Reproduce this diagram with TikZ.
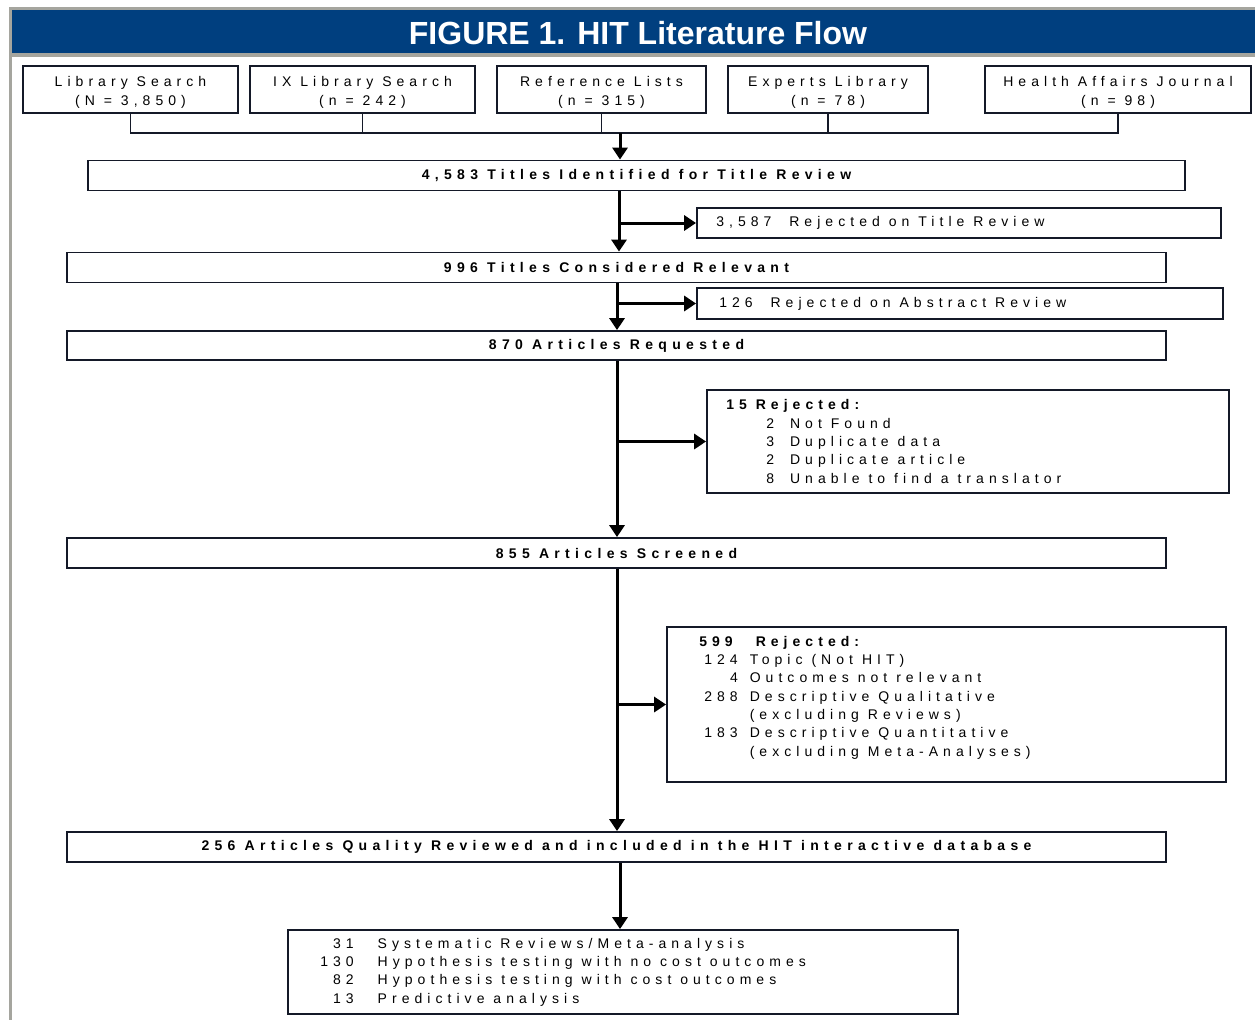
\documentclass[tikz,border=0pt]{standalone}
\usepackage{fontspec}
\setmainfont{Liberation Sans}
\newfontfamily\trackfont[LetterSpace=36]{Liberation Sans}
\newfontfamily\trackbold[LetterSpace=38]{Liberation Sans}
\usetikzlibrary{arrows.meta,positioning}
\definecolor{hdrblue}{RGB}{0,63,127}
\definecolor{framegray}{RGB}{165,165,158}
\definecolor{boxline}{RGB}{20,25,40}
\begin{document}
\begin{tikzpicture}[x=1pt,y=-1pt,
    every node/.style={inner sep=0pt},
    srcbox/.style={draw=boxline,line width=1.8pt,minimum height=47pt,align=center,font=\fontsize{14}{19}\trackfont},
    stagebox/.style={draw=boxline,line width=1.8pt,minimum width=1099pt,minimum height=30pt,font=\fontsize{14}{18}\trackbold\bfseries},
    rejbox/.style={draw=boxline,line width=1.8pt},
    rejtext/.style={align=left,font=\fontsize{14}{18.3}\trackfont},
    bus/.style={draw=boxline,line width=1.8pt},
    flow/.style={draw=black,line width=3pt,-{Triangle[width=15pt,length=12pt]}}]
    \useasboundingbox (0,0) rectangle (1255,1020);
    \fill [framegray] (9,7) rectangle (1255,10);
    \fill [hdrblue] (9,10) rectangle (1255,53);
    \fill [framegray] (9,53) rectangle (1255,57);
    \fill [framegray] (9,7) rectangle (12,1020);
    \node [text=white,font=\fontsize{32}{36}\selectfont\bfseries] (title) at (638,33) {FIGURE 1. HIT Literature Flow};

    \node [srcbox,minimum width=215pt] (src1) at (130.5,89.5) {\rule{0pt}{16pt}Library Search\\(N = 3,850)};
    \node [srcbox,minimum width=225pt] (src2) at (362.5,89.5) {\rule{0pt}{16pt}IX Library Search\\(n = 242)};
    \node [srcbox,minimum width=209pt] (src3) at (601.5,89.5) {\rule{0pt}{16pt}Reference Lists\\(n = 315)};
    \node [srcbox,minimum width=200pt] (src4) at (828,89.5) {\rule{0pt}{16pt}Experts Library\\(n = 78)};
    \node [srcbox,minimum width=266pt] (src5) at (1118,89.5) {\rule{0pt}{16pt}Health Affairs Journal\\(n = 98)};

    \node [stagebox,minimum width=1097pt] (titles) at (636.5,175.5) {4,583 Titles Identified for Title Review};
    \node [stagebox] (relevant) at (616.5,267.5) {996 Titles Considered Relevant};
    \node [stagebox,minimum height=29pt] (requested) at (616.5,345.5) {870 Articles Requested};
    \node [stagebox] (screened) at (616.5,553) {855 Articles Screened};
    \node [stagebox] (included) at (616.5,847) {256 Articles Quality Reviewed and included in the HIT interactive database};

    \node [rejbox,minimum width=524pt,minimum height=30pt] (rej1) at (959,223) {};
    \node [rejtext,right=20pt of rej1.west] (rej1txt) {3,587\ \ Rejected on Title Review};
    \node [rejbox,minimum width=526pt,minimum height=31pt] (rej2) at (960,303.5) {};
    \node [rejtext,right=23pt of rej2.west] (rej2txt) {126\ \ Rejected on Abstract Review};
    \node [rejbox,minimum width=522pt,minimum height=103pt] (rej3) at (968,441.5) {};
    \node [rejtext,right=20pt of rej3.west] (rej3txt) {\textbf{15 Rejected:}\\
        \hspace*{40pt}2\hspace{16pt}Not Found\\
        \hspace*{40pt}3\hspace{16pt}Duplicate data\\
        \hspace*{40pt}2\hspace{16pt}Duplicate article\\
        \hspace*{40pt}8\hspace{16pt}Unable to find a translator};
    \node [rejbox,minimum width=559pt,minimum height=155pt] (rej4) at (946.5,704.5) {};
    \node [rejtext,right=33pt of rej4.west,yshift=7pt] (rej4txt) {%
        \begin{tabular}{@{}r@{\hspace{12pt}}l@{}}
        \textbf{599} & \hspace{6pt}\textbf{Rejected:}\\
        124 & Topic (Not HIT)\\
        4 & Outcomes not relevant\\
        288 & Descriptive Qualitative\\
         & (excluding Reviews)\\
        183 & Descriptive Quantitative\\
         & (excluding Meta-Analyses)
        \end{tabular}};
    \node [rejbox,minimum width=670pt,minimum height=84pt] (final) at (623,972) {};
    \node [rejtext,right=33pt of final.west] (finaltxt) {%
        \begin{tabular}{@{}r@{\hspace{24pt}}l@{}}
        31 & Systematic Reviews/Meta-analysis\\
        130 & Hypothesis testing with no cost outcomes\\
        82 & Hypothesis testing with cost outcomes\\
        13 & Predictive analysis
        \end{tabular}};

    \coordinate (bus) at (620,133);
    \draw [bus] (src1.south) |- (bus) -| (src5.south);
    \foreach \s in {src2,src3,src4}
        \draw [bus] (\s.south) -- (\s.south |- bus);
    \draw [flow] (bus) -- (bus |- titles.north);

    \coordinate (s1) at (619,0);
    \coordinate (s2) at (617,0);
    \coordinate (s5) at (620,0);
    \draw [flow] (s1 |- titles.south) -- (s1 |- relevant.north);
    \draw [flow] (s1 |- rej1.west) -- (rej1.west);
    \draw [flow] (s2 |- relevant.south) -- (s2 |- requested.north);
    \draw [flow] (s2 |- rej2.west) -- (rej2.west);
    \draw [flow] (s2 |- requested.south) -- (s2 |- screened.north);
    \draw [flow] (s2 |- rej3.west) -- (rej3.west);
    \draw [flow] (s2 |- screened.south) -- (s2 |- included.north);
    \draw [flow] (s2 |- rej4.west) -- (rej4.west);
    \draw [flow] (s5 |- included.south) -- (s5 |- final.north);
\end{tikzpicture}
\end{document}
